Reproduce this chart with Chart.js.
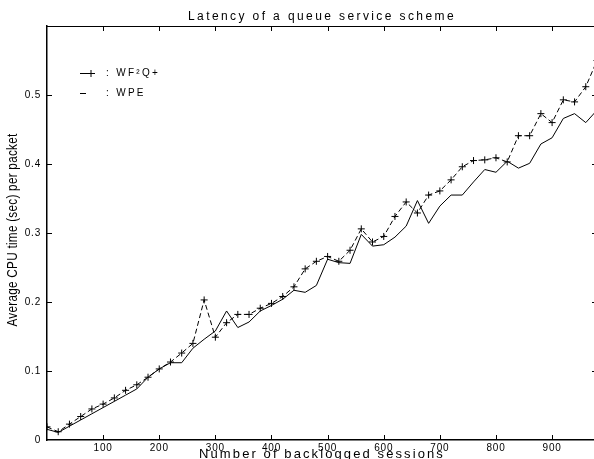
<!DOCTYPE html>
<html>
<head>
<meta charset="utf-8">
<script src="https://cdn.jsdelivr.net/npm/chart.js@4.4.0/dist/chart.umd.min.js"></script>
<style>
html, body { margin: 0; padding: 0; background: #fff; overflow: hidden; }
#wrap { position: relative; width: 602px; height: 463px; }
</style>
</head>
<body>
<div id="wrap"><canvas id="grafico" width="602" height="463"></canvas></div>
<script>
// datos
const sesiones = [0, 20, 40, 60, 80, 100, 120, 140, 160, 180,
    200, 220, 240, 260, 280, 300, 320, 340, 360, 380,
    400, 420, 440, 460, 480, 500, 520, 540, 560, 580,
    600, 620, 640, 660, 680, 700, 720, 740, 760, 780,
    800, 820, 840, 860, 880, 900, 920, 940, 960, 980];

const wf2q = [0.019, 0.012, 0.023, 0.034, 0.045, 0.052, 0.061, 0.072, 0.080, 0.091,
    0.103, 0.113, 0.126, 0.140, 0.203, 0.149, 0.170, 0.182, 0.182, 0.191,
    0.198, 0.208, 0.222, 0.248, 0.259, 0.266, 0.259, 0.275, 0.306, 0.287,
    0.295, 0.324, 0.345, 0.329, 0.355, 0.361, 0.377, 0.396, 0.405, 0.406,
    0.409, 0.403, 0.441, 0.441, 0.473, 0.460, 0.493, 0.490, 0.512, 0.550];

const wpe = [0.0155, 0.011, 0.020, 0.029, 0.038, 0.047, 0.056, 0.065, 0.074, 0.091,
    0.103, 0.112, 0.112, 0.133, 0.146, 0.158, 0.187, 0.163, 0.171, 0.187,
    0.195, 0.204, 0.217, 0.214, 0.224, 0.262, 0.257, 0.256, 0.298, 0.281,
    0.283, 0.294, 0.310, 0.347, 0.314, 0.339, 0.355, 0.355, 0.374, 0.392,
    0.388, 0.404, 0.394, 0.401, 0.429, 0.438, 0.466, 0.473, 0.460, 0.478];

const ticksX = [100, 200, 300, 400, 500, 600, 700, 800, 900];
const ticksY = [0, 0.1, 0.2, 0.3, 0.4, 0.5];
const etiquetasY = ['0', '0.1', '0.2', '0.3', '0.4', '0.5'];

const titulo = 'Latency of a queue service scheme';
const tituloX = 'Number of backlogged sessions';
const tituloY = 'Average CPU time (sec) per packet';
const nombres = ['WF\u00B2Q+', 'WPE'];

const fuente = "'Liberation Sans', Arial, Helvetica, sans-serif";

function texto(ctx, str, x, y, size, espacio, align) {
    ctx.save();
    ctx.font = size + 'px ' + fuente;
    ctx.letterSpacing = espacio + 'px';
    ctx.fillStyle = '#000';
    ctx.textBaseline = 'middle';
    let w = ctx.measureText(str).width;
    let x0 = align === 'center' ? x - w / 2 : x;
    ctx.textAlign = 'left';
    ctx.fillText(str, x0, y);
    ctx.restore();
}

// marco, marcas hacia dentro, titulos y leyenda
const marco = {
    id: 'marco',
    beforeUpdate(chart) {
        chart.ctx.letterSpacing = '0.8px';
    },
    afterDraw(chart) {
        const ctx = chart.ctx;
        const a = chart.chartArea;
        const sx = chart.scales.x, sy = chart.scales.y;
        ctx.save();
        ctx.strokeStyle = '#000';
        ctx.lineWidth = 1;
        ctx.beginPath();
        ctx.moveTo(a.left, a.top + 0.5);
        ctx.lineTo(a.right, a.top + 0.5);
        ctx.moveTo(a.right - 0.5, a.top);
        ctx.lineTo(a.right - 0.5, a.bottom);
        ticksX.forEach(v => {
            const px = Math.round(sx.getPixelForValue(v)) + 0.5;
            ctx.moveTo(px, a.bottom);
            ctx.lineTo(px, a.bottom - 5);
            ctx.moveTo(px, a.top);
            ctx.lineTo(px, a.top + 5);
        });
        ticksY.forEach(v => {
            if (v === 0) return;
            const py = Math.round(sy.getPixelForValue(v)) + 0.5;
            ctx.moveTo(a.left, py);
            ctx.lineTo(a.left + 5, py);
            ctx.moveTo(a.right, py);
            ctx.lineTo(a.right - 5, py);
        });
        ctx.stroke();

        // leyenda
        ctx.beginPath();
        ctx.moveTo(80, 73.5);
        ctx.lineTo(95, 73.5);
        ctx.moveTo(91, 70);
        ctx.lineTo(91, 77);
        ctx.moveTo(80, 93.5);
        ctx.lineTo(86, 93.5);
        ctx.stroke();
        ctx.restore();

        texto(ctx, ': ' + nombres[0], 106, 73, 10, 2.3, 'left');
        texto(ctx, ': ' + nombres[1], 106, 93, 10, 2.3, 'left');

        const cx = (a.left + a.right) / 2;
        texto(ctx, titulo, cx, 17, 12, 2.4, 'center');
        texto(ctx, tituloX, cx, 454, 13, 2.1, 'center');

        ctx.save();
        ctx.translate(13, 230);
        ctx.rotate(-Math.PI / 2);
        ctx.scale(0.84, 1);
        ctx.font = '14px ' + fuente;
        ctx.fillStyle = '#000';
        ctx.textAlign = 'center';
        ctx.textBaseline = 'middle';
        ctx.letterSpacing = '0.3px';
        ctx.fillText(tituloY, 0, 0);
        ctx.restore();
    }
};

const ctx = document.getElementById('grafico').getContext('2d');
const miGrafico = new Chart(ctx, {
    type: 'line',
    data: {
        labels: sesiones,
        datasets: [{
            label: nombres[0],
            data: sesiones.map((s, i) => ({ x: s, y: wf2q[i] })),
            borderColor: '#000',
            borderWidth: 1,
            borderDash: [5, 3],
            pointStyle: 'cross',
            pointRadius: 3.5,
            pointBorderColor: '#000',
            pointBorderWidth: 1,
            tension: 0,
            fill: false
        }, {
            label: nombres[1],
            data: sesiones.map((s, i) => ({ x: s, y: wpe[i] })),
            borderColor: '#000',
            borderWidth: 1,
            pointRadius: 0,
            tension: 0,
            fill: false
        }]
    },
    options: {
        responsive: false,
        animation: false,
        devicePixelRatio: 1,
        layout: { padding: { left: 0, right: 5, top: 26, bottom: 0 } },
        plugins: {
            legend: { display: false },
            title: { display: false },
            tooltip: { enabled: false }
        },
        scales: {
            x: {
                type: 'linear',
                min: 0,
                max: 980,
                afterBuildTicks: s => { s.ticks = ticksX.map(v => ({ value: v })); },
                afterFit: s => { s.height = 23; },
                grid: { display: false, drawTicks: false, tickLength: 0 },
                border: { display: true, color: '#000', width: 1.5 },
                ticks: {
                    color: '#000',
                    font: { size: 10, family: fuente },
                    padding: 2,
                    maxRotation: 0,
                    autoSkip: false
                }
            },
            y: {
                min: 0,
                max: 0.6,
                afterBuildTicks: s => { s.ticks = ticksY.map(v => ({ value: v })); },
                afterFit: s => { s.width = 47; },
                grid: { display: false, drawTicks: false, tickLength: 0 },
                border: { display: true, color: '#000', width: 1.5 },
                ticks: {
                    color: '#000',
                    font: { size: 10, family: fuente },
                    padding: 6,
                    callback: (v, i) => etiquetasY[i]
                }
            }
        }
    },
    plugins: [marco]
});
</script>
</body>
</html>
